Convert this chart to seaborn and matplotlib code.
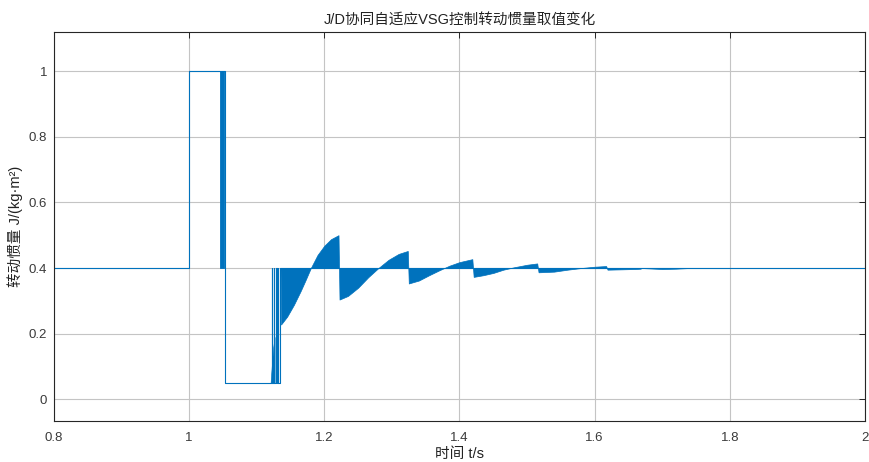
import matplotlib
matplotlib.use("Agg")
import matplotlib.pyplot as plt
import numpy as np
import pandas as pd
import seaborn as sns

# Switching instants of the inertia command (held value until next instant)
switch_t = [0.8, 1.0, 1.0525, 1.1225, 1.1232, 1.125, 1.1256, 1.129, 1.1295,
            1.131, 1.1316, 1.135, 2.0]
switch_j = [0.4, 1.0, 0.05, 0.4, 0.05, 0.4, 0.05, 0.4, 0.05,
            0.4, 0.05, 0.4, 0.4]

# Fast chattering between 1.0 and 0.4 right after the disturbance
band_t = [1.045, 1.052]
band_lo = [0.4, 0.4]
band_hi = [1.0, 1.0]

# Chattering ramp leaving the lower limit
ramp_t = [1.1205, 1.1225, 1.1245, 1.1265]
ramp_hi = [0.05, 0.11, 0.16, 0.19]

# Envelope of the fast switching around the nominal inertia 0.4
env_t = [1.1352, 1.136, 1.145, 1.155, 1.165, 1.172, 1.18, 1.19, 1.20, 1.21, 1.221,
         1.2225, 1.235, 1.25, 1.265, 1.28, 1.295, 1.31, 1.3235,
         1.325, 1.34, 1.355, 1.37, 1.385, 1.40, 1.419,
         1.421, 1.435, 1.45, 1.465, 1.48, 1.50, 1.515,
         1.517, 1.54, 1.56, 1.58, 1.60, 1.617,
         1.619, 1.64, 1.66, 1.668, 1.669, 1.70, 1.72, 1.74, 1.77]
env_j = [0.4, 0.228, 0.252, 0.288, 0.33, 0.362, 0.40, 0.44, 0.468, 0.488, 0.50,
         0.304, 0.315, 0.34, 0.372, 0.40, 0.425, 0.443, 0.452,
         0.353, 0.362, 0.378, 0.393, 0.407, 0.418, 0.427,
         0.373, 0.378, 0.385, 0.395, 0.402, 0.41, 0.414,
         0.387, 0.389, 0.395, 0.40, 0.404, 0.406,
         0.395, 0.396, 0.397, 0.398, 0.40, 0.397, 0.398, 0.40, 0.40]

x_ticks = [0.8, 1.0, 1.2, 1.4, 1.6, 1.8, 2.0]
x_tick_labels = ["0.8", "1", "1.2", "1.4", "1.6", "1.8", "2"]
y_ticks = [0.0, 0.2, 0.4, 0.6, 0.8, 1.0]
y_tick_labels = ["0", "0.2", "0.4", "0.6", "0.8", "1"]

sns.set_style("white")
plt.rcParams["font.family"] = ["Liberation Sans", "Noto Sans CJK SC"]

line_color = "#0072BD"
text_color = "#262626"

fig = plt.figure(figsize=(8.69, 4.62), dpi=100)
ax = fig.add_axes([0.0621, 0.0894, 0.9333, 0.8407])

df = pd.DataFrame({"t": switch_t, "J": switch_j})
sns.lineplot(data=df, x="t", y="J", ax=ax, color=line_color, linewidth=0.8,
             drawstyle="steps-post", estimator=None, sort=False)

ax.fill_between(band_t, band_lo, band_hi, color=line_color, linewidth=0.6)
ax.fill_between(ramp_t, 0.05, ramp_hi, color=line_color, linewidth=0.4)
ax.fill_between(env_t, 0.4, env_j, color=line_color, linewidth=0.5,
                edgecolor=line_color)

ax.set_xlim(0.8, 2.0)
ax.set_ylim(-0.065, 1.118)
ax.set_xticks(x_ticks)
ax.set_xticklabels(x_tick_labels)
ax.set_yticks(y_ticks)
ax.set_yticklabels(y_tick_labels)

ax.grid(True, color="#c4c4c4", linewidth=0.8)
ax.set_axisbelow(True)
for s in ax.spines.values():
    s.set_color(text_color)
    s.set_linewidth(0.8)
ax.tick_params(direction="in", length=4, width=0.7, colors=text_color,
               labelsize=9.5, top=True, right=True)
ax.tick_params(axis="x", pad=8)
ax.tick_params(axis="y", pad=5)
for lbl in ax.get_xticklabels() + ax.get_yticklabels():
    lbl.set_color("#3a3a3a")

ax.set_title("J/D协同自适应VSG控制转动惯量取值变化", fontsize=10.5,
             color="#222222", pad=6)
ax.set_xlabel("时间 t/s", fontsize=10.5, color="#222222", labelpad=2)
ax.set_ylabel("转动惯量 J/(kg·m²)", fontsize=10.5, color="#222222", labelpad=4)

fig.savefig("out.png", dpi=100)
